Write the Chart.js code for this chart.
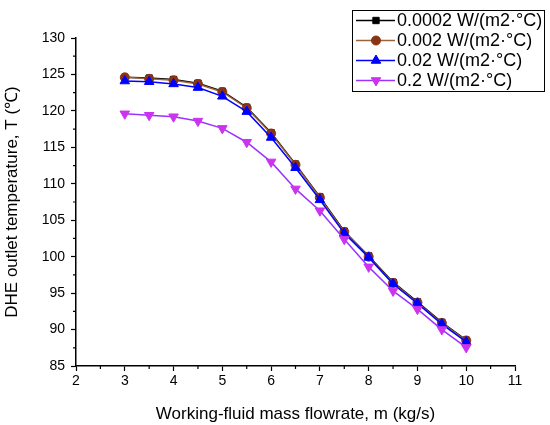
<!DOCTYPE html>
<html>
<head>
<meta charset="utf-8">
<script src="https://cdn.jsdelivr.net/npm/chart.js@4/dist/chart.umd.min.js"></script>
<style>
html,body{margin:0;padding:0;background:#fff;}
#wrap{width:550px;height:425px;position:relative;}
</style>
</head>
<body>
<div id="wrap"><canvas id="c" width="550" height="425"></canvas></div>
<script>
const flowrates = [3, 3.5, 4, 4.5, 5, 5.5, 6, 6.5, 7, 7.5, 8, 8.5, 9, 9.5, 10];
const seriesLabels = ["0.0002 W/(m2·°C)", "0.002 W/(m2·°C)", "0.02 W/(m2·°C)", "0.2 W/(m2·°C)"];
const temp0002 = [124.6, 124.5, 124.3, 123.8, 122.7, 120.5, 117.0, 112.7, 108.2, 103.5, 100.1, 96.5, 93.8, 91.0, 88.55];
const temp002  = [124.6, 124.4, 124.2, 123.7, 122.6, 120.4, 116.9, 112.6, 108.1, 103.4, 100.0, 96.4, 93.7, 90.9, 88.5];
const temp02   = [124.1, 124.0, 123.7, 123.2, 122.0, 119.9, 116.35, 112.2, 107.8, 103.2, 99.9, 96.25, 93.6, 90.75, 88.3];
const temp2    = [119.6, 119.4, 119.2, 118.6, 117.6, 115.7, 113.0, 109.3, 106.3, 102.4, 98.6, 95.3, 92.8, 90.0, 87.55];
const xTicks = [2, 3, 4, 5, 6, 7, 8, 9, 10, 11];
const yTicks = [85, 90, 95, 100, 105, 110, 115, 120, 125, 130];
const xMinorTicks = [2.5, 3.5, 4.5, 5.5, 6.5, 7.5, 8.5, 9.5, 10.5];
const yMinorTicks = [87.5, 92.5, 97.5, 102.5, 107.5, 112.5, 117.5, 122.5, 127.5];

const FONT = "'Liberation Sans', Arial, sans-serif";
const pts = arr => flowrates.map((x, i) => ({x: x, y: arr[i]}));

const styles = [
  {line: '#000000', fill: '#000000', shape: 'rect', r: 4.5, order: 3},
  {line: '#9a6438', fill: '#8b3413', shape: 'circle', r: 4.5, order: 2},
  {line: '#0000ff', fill: '#0000ff', shape: 'triangle', r: 5.5, order: 1},
  {line: '#9933ff', fill: '#cc33ee', shape: 'triangle', r: 5.5, rot: 180, order: 0}
];
const allData = [temp0002, temp002, temp02, temp2];

const datasets = allData.map((arr, i) => ({
  label: seriesLabels[i],
  data: pts(arr),
  borderColor: styles[i].line,
  backgroundColor: styles[i].fill,
  pointBackgroundColor: styles[i].fill,
  pointBorderColor: styles[i].fill,
  pointBorderWidth: 1,
  pointStyle: styles[i].shape,
  pointRadius: styles[i].r,
  pointRotation: styles[i].rot || 0,
  borderWidth: 1.5,
  tension: 0,
  order: styles[i].order
}));

const minorTicksPlugin = {
  id: 'minorTicks',
  afterDraw(chart) {
    const ctx = chart.ctx, xs = chart.scales.x, ys = chart.scales.y;
    const ca = chart.chartArea;
    ctx.save();
    ctx.strokeStyle = '#000';
    ctx.lineWidth = 1.2;
    ctx.beginPath();
    xMinorTicks.forEach(v => {
      const p = xs.getPixelForValue(v);
      ctx.moveTo(p, ca.bottom); ctx.lineTo(p, ca.bottom + 3);
    });
    yMinorTicks.forEach(v => {
      const p = ys.getPixelForValue(v);
      ctx.moveTo(ca.left, p); ctx.lineTo(ca.left - 3, p);
    });
    ctx.stroke();
    ctx.restore();
  }
};

const boxLegendPlugin = {
  id: 'boxLegend',
  afterDraw(chart) {
    const ctx = chart.ctx;
    const bx = 352, by = 10, bw = 192, bh = 81;
    ctx.save();
    ctx.fillStyle = '#fff';
    ctx.fillRect(bx, by, bw, bh);
    ctx.strokeStyle = '#000';
    ctx.lineWidth = 1;
    ctx.strokeRect(bx + 0.5, by + 0.5, bw, bh);
    ctx.font = '18px ' + FONT;
    ctx.textBaseline = 'middle';
    chart.data.datasets.forEach((ds, i) => {
      const cy = by + 10.5 + i * 20;
      ctx.strokeStyle = ds.borderColor;
      ctx.lineWidth = 1.5;
      ctx.beginPath();
      ctx.moveTo(356, cy); ctx.lineTo(395, cy);
      ctx.stroke();
      ctx.fillStyle = ds.pointBackgroundColor;
      ctx.strokeStyle = ds.pointBorderColor;
      ctx.lineWidth = 1;
      Chart.helpers.drawPoint(ctx, {pointStyle: ds.pointStyle, radius: ds.pointRadius, rotation: ds.pointRotation, borderWidth: 1}, 376, cy);
      ctx.fillStyle = '#000';
      ctx.fillText(ds.label, 397, cy + 1);
    });
    ctx.restore();
  }
};

new Chart(document.getElementById('c'), {
  type: 'line',
  data: {datasets: datasets},
  plugins: [minorTicksPlugin, boxLegendPlugin],
  options: {
    responsive: false,
    animation: false,
    layout: {padding: {top: 38, right: 35, left: 0, bottom: 0}},
    plugins: {legend: {display: false}, tooltip: {enabled: false}},
    scales: {
      x: {
        type: 'linear', min: 2, max: 11,
        afterBuildTicks: s => { s.ticks = xTicks.map(v => ({value: v})); },
        afterFit: s => { s.height = 59; },
        ticks: {color: '#000', font: {family: FONT, size: 14}, padding: 2, maxRotation: 0},
        grid: {drawOnChartArea: false, drawTicks: true, tickLength: 5, tickColor: '#000', tickWidth: 1.2},
        border: {display: true, color: '#000', width: 1.5},
        title: {display: true, text: 'Working-fluid mass flowrate, m (kg/s)', color: '#000', font: {family: FONT, size: 17}, padding: {top: 4, bottom: 0}}
      },
      y: {
        type: 'linear', min: 85, max: 130,
        afterBuildTicks: s => { s.ticks = yTicks.map(v => ({value: v})); },
        afterFit: s => { s.width = 76; },
        ticks: {color: '#000', font: {family: FONT, size: 14}, padding: 6},
        grid: {drawOnChartArea: false, drawTicks: true, tickLength: 5, tickColor: '#000', tickWidth: 1.2},
        border: {display: true, color: '#000', width: 1.5},
        title: {display: true, text: 'DHE outlet temperature, T (℃)', color: '#000', font: {family: FONT, size: 17}, padding: {top: 2, bottom: 0}}
      }
    }
  }
});
</script>
</body>
</html>
